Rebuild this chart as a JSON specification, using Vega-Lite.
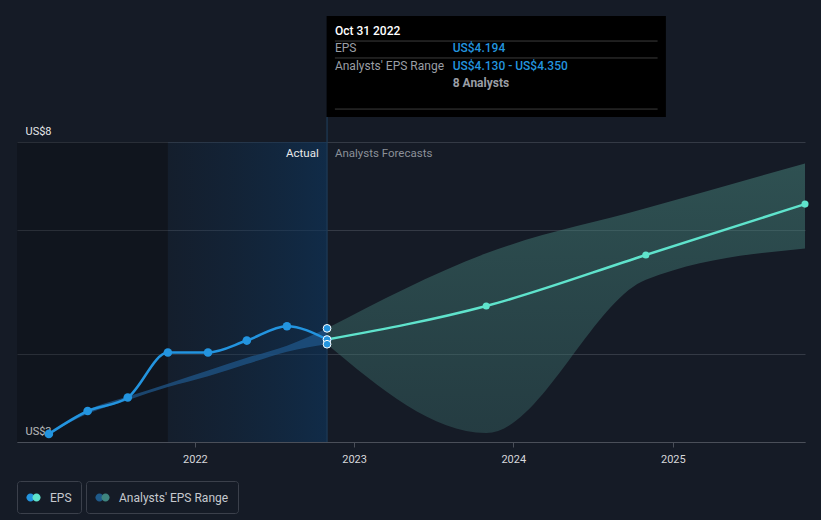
{
  "$schema": "https://vega.github.io/schema/vega-lite/v6.json",
  "width": 788,
  "height": 442,
  "autosize": {"type": "none"},
  "padding": {"left": 17, "right": 16, "top": 0, "bottom": 78},
  "background": "#151b26",
  "config": {"view": {"stroke": null}, "font": "Roboto"},
  "datasets": {
    "actual": [
      {"date": "2021-01-31", "v": 3.08},
      {"date": "2021-04-30", "v": 3.32},
      {"date": "2021-07-31", "v": 3.47},
      {"date": "2021-10-31", "v": 4.02},
      {"date": "2022-01-31", "v": 4.02},
      {"date": "2022-04-30", "v": 4.18},
      {"date": "2022-07-31", "v": 4.38},
      {"date": "2022-10-31", "v": 4.194}
    ],
    "pastRange": [
      {"date": "2021-01-31", "lo": 3.08, "hi": 3.08},
      {"date": "2021-04-30", "lo": 3.29, "hi": 3.33},
      {"date": "2021-07-31", "lo": 3.44, "hi": 3.48},
      {"date": "2021-10-31", "lo": 3.59, "hi": 3.63},
      {"date": "2022-01-31", "lo": 3.72, "hi": 3.79},
      {"date": "2022-04-30", "lo": 3.87, "hi": 3.95},
      {"date": "2022-07-31", "lo": 4.03, "hi": 4.11},
      {"date": "2022-10-31", "lo": 4.13, "hi": 4.35}
    ],
    "forecast": [
      {"date": "2022-10-31", "v": 4.194},
      {"date": "2023-10-31", "v": 4.68},
      {"date": "2024-10-31", "v": 5.53},
      {"date": "2025-10-31", "v": 6.53}
    ],
    "forecastPts": [
      {"date": "2023-10-31", "v": 4.68},
      {"date": "2024-10-31", "v": 5.53},
      {"date": "2025-10-31", "v": 6.53}
    ],
    "futureRange": [
      {"date": "2022-10-31", "lo": 4.13, "hi": 4.35},
      {"date": "2023-10-31", "lo": 3.09, "hi": 5.56},
      {"date": "2024-10-31", "lo": 5.10, "hi": 6.44},
      {"date": "2025-10-31", "lo": 5.65, "hi": 7.46}
    ],
    "endpoint": [
      {"date": "2022-10-31", "v": 4.35},
      {"date": "2022-10-31", "v": 4.194},
      {"date": "2022-10-31", "v": 4.13}
    ],
    "hidden": [{"date": "2023-06-01", "v": 10.5}],
    "pastZone": [{"date": "2020-11-19", "date2": "2021-10-31", "v": 8, "v2": 3}],
    "actualZone": [{"date": "2021-10-31", "date2": "2022-10-31", "v": 8, "v2": 3}],
    "cursor": [{"date": "2022-10-31", "v": 3, "v2": 8.68}],
    "tipBox": [{"date": "2022-10-30", "date2": "2024-12-16", "v": 12.08, "v2": 8.68}],
    "tipLines": [
      {"date": "2022-11-18", "date2": "2024-11-27", "v": 11.13},
      {"date": "2022-11-18", "date2": "2024-11-27", "v": 10.53},
      {"date": "2022-11-18", "date2": "2024-11-27", "v": 8.91}
    ],
    "labelActual": [{"date": "2022-10-12", "v": 7.69, "label": "Actual"}],
    "labelForecast": [{"date": "2022-11-18", "v": 7.69, "label": "Analysts Forecasts"}],
    "tipTitle": [{"date": "2022-11-18", "v": 11.5, "label": "Oct 31 2022"}],
    "tipKeys": [
      {"date": "2022-11-18", "v": 10.88, "label": "EPS"},
      {"date": "2022-11-18", "v": 10.26, "label": "Analysts' EPS Range"}
    ],
    "tipValues": [
      {"date": "2023-08-15", "v": 10.88, "label": "US$4.194"},
      {"date": "2023-08-15", "v": 10.26, "label": "US$4.130 - US$4.350"}
    ],
    "tipCount": [{"date": "2023-08-15", "v": 9.7, "label": "8 Analysts"}]
  },
  "encoding": {
    "x": {
      "field": "date", "type": "temporal",
      "scale": {"domain": [{"year": 2020, "month": 11, "date": 19}, {"year": 2025, "month": 10, "date": 31}]},
      "axis": {
        "title": null, "grid": false, "format": "%Y",
        "values": [{"year": 2022, "month": 1, "date": 1}, {"year": 2023, "month": 1, "date": 1}, {"year": 2024, "month": 1, "date": 1}, {"year": 2025, "month": 1, "date": 1}],
        "domainColor": "#4a4f59", "tickColor": "#4a4f59", "tickSize": 5,
        "labelColor": "#d5d7db", "labelFontSize": 11, "labelPadding": 6, "labelFont": "Roboto"
      }
    },
    "y": {
      "field": "v", "type": "quantitative",
      "scale": {"type": "log", "domain": [3, 12.728], "nice": false, "zero": false},
      "axis": {
        "title": null, "values": [3, 4, 6, 8],
        "labelExpr": "datum.value == 3 || datum.value == 8 ? 'US$' + datum.value : ''",
        "grid": true, "gridColor": "#343a45", "gridWidth": 1,
        "domain": false, "ticks": false, "tickSize": 0,
        "labelAlign": "left", "labelPadding": -8, "labelBaseline": "alphabetic", "labelOffset": -8,
        "labelColor": "#e6e7e9", "labelFontSize": 11, "labelFont": "Roboto"
      }
    }
  },
  "layer": [
    {
      "data": {"name": "hidden"},
      "mark": {"type": "point", "filled": true, "opacity": 1, "size": 200, "shape": "M-1,0A0.57,0.57,0,1,1,0.14,0A0.57,0.57,0,1,1,-1,0Z"},
      "encoding": {
        "fill": {
          "datum": "EPS",
          "scale": {"domain": ["EPS"], "range": ["#2394df"]},
          "legend": {
            "title": null, "orient": "none", "legendX": 0, "legendY": 481, "direction": "horizontal",
            "strokeColor": "#3b404b", "cornerRadius": 3, "padding": 9,
            "labelColor": "#c6c9ce", "labelFont": "Roboto", "labelFontSize": 12, "labelOffset": 9,
            "symbolSize": 200, "symbolStrokeWidth": 0,
            "symbolType": "M-1,0A0.57,0.57,0,1,1,0.14,0A0.57,0.57,0,1,1,-1,0Z"
          }
        }
      }
    },
    {
      "data": {"name": "hidden"},
      "mark": {"type": "point", "filled": true, "opacity": 1, "size": 200, "fill": "#5fe3cc"},
      "encoding": {
        "shape": {
          "datum": "EPS ",
          "scale": {"domain": ["EPS "], "range": ["M-0.14,0A0.57,0.57,0,1,1,1,0A0.57,0.57,0,1,1,-0.14,0Z"]},
          "legend": {
            "title": null, "orient": "none", "legendX": 0, "legendY": 481, "direction": "horizontal",
            "padding": 9,
            "labelColor": "rgba(0,0,0,0)", "labelFont": "Roboto", "labelFontSize": 12, "labelOffset": 9,
            "symbolSize": 200, "symbolStrokeWidth": 0, "symbolFillColor": "#5fe3cc"
          }
        }
      }
    },
    {
      "data": {"name": "hidden"},
      "mark": {"type": "point", "filled": true, "opacity": 1, "size": 200, "shape": "M-1,0A0.57,0.57,0,1,1,0.14,0A0.57,0.57,0,1,1,-1,0Z"},
      "encoding": {
        "color": {
          "datum": "Analysts' EPS Range",
          "scale": {"domain": ["Analysts' EPS Range"], "range": ["#1f5a8a"]},
          "legend": {
            "title": null, "orient": "none", "legendX": 69, "legendY": 481, "direction": "horizontal",
            "strokeColor": "#3b404b", "cornerRadius": 3, "padding": 9,
            "labelColor": "#c6c9ce", "labelFont": "Roboto", "labelFontSize": 12, "labelOffset": 9,
            "symbolSize": 200, "symbolStrokeWidth": 0,
            "symbolType": "M-1,0A0.57,0.57,0,1,1,0.14,0A0.57,0.57,0,1,1,-1,0Z"
          }
        }
      }
    },
    {
      "data": {"name": "hidden"},
      "mark": {"type": "point", "filled": true, "opacity": 1, "fill": "#3f8580", "shape": "M-0.14,0A0.57,0.57,0,1,1,1,0A0.57,0.57,0,1,1,-0.14,0Z"},
      "encoding": {
        "size": {
          "datum": "Analysts' EPS Range ",
          "type": "nominal",
          "scale": {"type": "ordinal", "domain": ["Analysts' EPS Range "], "range": [200]},
          "legend": {
            "title": null, "orient": "none", "legendX": 69, "legendY": 481, "direction": "horizontal",
            "padding": 9,
            "labelColor": "rgba(0,0,0,0)", "labelFont": "Roboto", "labelFontSize": 12, "labelOffset": 9,
            "symbolStrokeWidth": 0, "symbolFillColor": "#3f8580",
            "symbolType": "M-0.14,0A0.57,0.57,0,1,1,1,0A0.57,0.57,0,1,1,-0.14,0Z"
          }
        }
      }
    },
    {
      "data": {"name": "pastZone"},
      "mark": {"type": "rect", "fill": "#000000", "opacity": 0.2},
      "encoding": {
        "x2": {"field": "date2", "type": "temporal"},
        "y2": {"field": "v2"}
      }
    },
    {
      "data": {"name": "actualZone"},
      "mark": {"type": "rect", "fill": {"gradient": "linear", "x1": 0, "y1": 0, "x2": 1, "y2": 0, "stops": [{"offset": 0, "color": "rgba(16,45,75,0.18)"}, {"offset": 1, "color": "rgba(14,52,90,0.65)"}]}},
      "encoding": {
        "x2": {"field": "date2", "type": "temporal"},
        "y2": {"field": "v2"}
      }
    },
    {
      "data": {"name": "futureRange"},
      "mark": {"type": "area", "interpolate": "monotone", "fill": {"gradient": "linear", "x1": 0, "y1": 0, "x2": 0, "y2": 1, "stops": [{"offset": 0, "color": "rgba(70,130,122,0.52)"}, {"offset": 1, "color": "rgba(60,110,108,0.4)"}]}},
      "encoding": {
        "y": {"field": "lo", "type": "quantitative"},
        "y2": {"field": "hi"}
      }
    },
    {
      "data": {"name": "pastRange"},
      "mark": {"type": "area", "interpolate": "monotone", "fill": "#1f5688", "opacity": 0.75},
      "encoding": {
        "y": {"field": "lo", "type": "quantitative"},
        "y2": {"field": "hi"}
      }
    },
    {
      "data": {"name": "actual"},
      "mark": {"type": "line", "interpolate": "monotone", "color": "#2394df", "strokeWidth": 2.5}
    },
    {
      "data": {"name": "forecast"},
      "mark": {"type": "line", "interpolate": "monotone", "color": "#5fe3cc", "strokeWidth": 2.5}
    },
    {
      "data": {"name": "actual"},
      "mark": {"type": "point", "filled": true, "opacity": 1, "color": "#2394df", "size": 75}
    },
    {
      "data": {"name": "forecastPts"},
      "mark": {"type": "point", "filled": true, "opacity": 1, "color": "#5fe3cc", "size": 50}
    },
    {
      "data": {"name": "cursor"},
      "mark": {"type": "rule", "color": "#1e3b57", "strokeWidth": 1.2},
      "encoding": {
        "y2": {"field": "v2"}
      }
    },
    {
      "data": {"name": "endpoint"},
      "mark": {"type": "point", "filled": true, "opacity": 1, "fill": "#2394df", "stroke": "#ffffff", "strokeWidth": 1, "size": 60}
    },
    {
      "data": {"name": "labelActual"},
      "mark": {"type": "text", "align": "right", "baseline": "middle", "color": "#e8e9eb", "fontSize": 11.5, "font": "Roboto"},
      "encoding": {"text": {"field": "label"}}
    },
    {
      "data": {"name": "labelForecast"},
      "mark": {"type": "text", "align": "left", "baseline": "middle", "color": "#8b9098", "fontSize": 11.5, "font": "Roboto"},
      "encoding": {"text": {"field": "label"}}
    },
    {
      "data": {"name": "tipBox"},
      "mark": {"type": "rect", "fill": "#000000"},
      "encoding": {
        "x2": {"field": "date2", "type": "temporal"},
        "y2": {"field": "v2"}
      }
    },
    {
      "data": {"name": "tipLines"},
      "mark": {"type": "rule", "color": "#3c3c3c", "strokeWidth": 1},
      "encoding": {
        "x2": {"field": "date2", "type": "temporal"}
      }
    },
    {
      "data": {"name": "tipTitle"},
      "mark": {"type": "text", "align": "left", "baseline": "middle", "color": "#ffffff", "fontSize": 12, "fontWeight": 500, "font": "Roboto"},
      "encoding": {"text": {"field": "label"}}
    },
    {
      "data": {"name": "tipKeys"},
      "mark": {"type": "text", "align": "left", "baseline": "middle", "color": "#9a9ea5", "fontSize": 12, "font": "Roboto"},
      "encoding": {"text": {"field": "label"}}
    },
    {
      "data": {"name": "tipValues"},
      "mark": {"type": "text", "align": "left", "baseline": "middle", "color": "#2394df", "fontSize": 12, "fontWeight": 500, "font": "Roboto"},
      "encoding": {"text": {"field": "label"}}
    },
    {
      "data": {"name": "tipCount"},
      "mark": {"type": "text", "align": "left", "baseline": "middle", "color": "#9a9ea5", "fontSize": 12, "fontWeight": "bold", "font": "Roboto"},
      "encoding": {"text": {"field": "label"}}
    }
  ]
}
